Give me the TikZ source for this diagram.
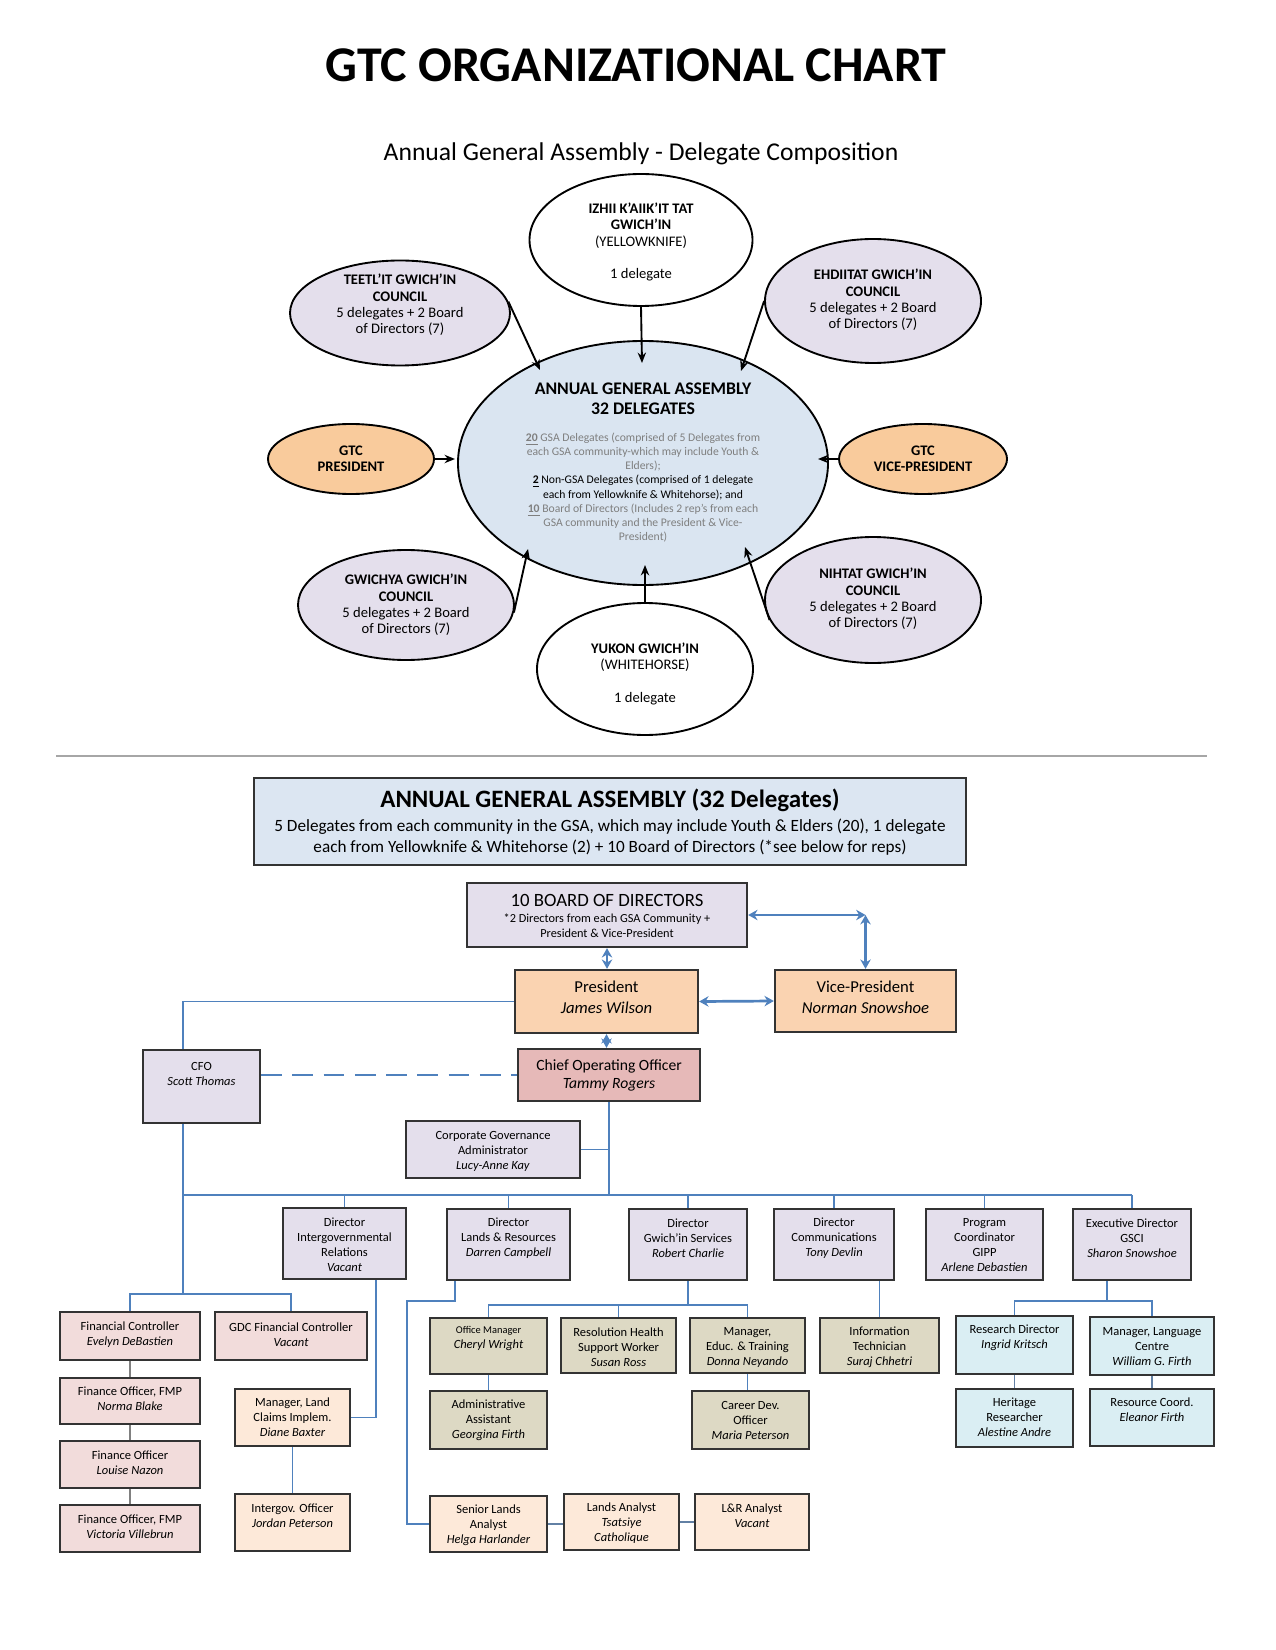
\documentclass[tikz,border=0pt]{standalone}
\usepackage{fontspec}
\setmainfont{Carlito}
\usetikzlibrary{shapes.geometric,arrows.meta,fit,calc}
\newcommand\fs[2]{\fontsize{#1}{#2}\selectfont}
\definecolor{lav}{HTML}{E4DFEC}
\definecolor{orng}{HTML}{F9CB9C}
\definecolor{agab}{HTML}{DAE5F1}
\definecolor{agabox}{HTML}{DCE6F2}
\definecolor{presor}{HTML}{FAD3B1}
\definecolor{coor}{HTML}{E6B9B8}
\definecolor{pinkb}{HTML}{F2DCDB}
\definecolor{peach}{HTML}{FDE9D9}
\definecolor{khaki}{HTML}{DDD9C4}
\definecolor{ltblue}{HTML}{DAEEF3}
\definecolor{lineblue}{HTML}{4F81BD}
\definecolor{aggrey}{HTML}{7F7F7F}
\newcommand\bx[6]{\node[box,#6,fit={(#2,#3) (#4,#5)}] (#1) {};}
\newcommand\el[6]{\node[ell,#6,minimum width={#4*0.96pt},minimum height={#5*0.96pt}] (#1) at (#2,#3) {};}
\tikzset{
 box/.style={draw=black!80, line width=1.1pt, inner sep=0pt},
 txt/.style={align=center, inner sep=0pt, font=\fs{6}{7.2}},
 etxt/.style={align=center, inner sep=0pt, font=\fs{7}{7.9}},
 bl/.style={draw=lineblue, line width=0.9pt},
 gl/.style={draw=black!50, line width=0.9pt},
 sl/.style={draw=lineblue!60!gray, line width=0.9pt},
 barrow/.style={draw=lineblue, line width=1.3pt, {Stealth[length=4.5pt,width=5pt]}-{Stealth[length=4.5pt,width=5pt]}},
 karrow/.style={draw=black, line width=0.9pt, -{Stealth[length=5pt,width=4pt]}},
 ell/.style={ellipse, draw=black, line width=0.9pt, inner sep=0pt},
}
\begin{document}
\begin{tikzpicture}[x=0.48pt,y=-0.48pt]
\path[use as bounding box, fill=white] (0,0) rectangle (1275,1650);

% ---------- titles
\node[font=\fs{24}{28}\bfseries, inner sep=0pt] (title) at (636,65) {GTC ORGANIZATIONAL CHART};
\node[font=\fs{12.3}{14}, inner sep=0pt] (subtitle) at (641,154) {Annual General Assembly - Delegate Composition};

% ---------- ellipses
\el{izhii}{641}{240}{111.5}{66}{fill=white}
\el{teet}{400}{313}{110}{52.5}{fill=lav}
\el{ehd}{873}{301}{108}{62}{fill=lav}
\el{aga}{643}{463}{185}{122}{fill=agab}
\el{gpres}{351}{459}{83}{35}{fill=orng}
\el{gvp}{923}{459}{84}{35}{fill=orng}
\el{gwi}{406}{605}{108}{55}{fill=lav}
\el{nih}{873}{600}{108}{63}{fill=lav}
\el{yuk}{645}{669}{108}{66}{fill=white}

\node[etxt] (izhii-t) at (641,242) {\textbf{IZHII K’AIIK’IT TAT}\\\textbf{GWICH’IN}\\(YELLOWKNIFE)\\[7.9pt]1 delegate};
\node[etxt] (teet-t) at (400,305) {\textbf{TEETL’IT GWICH’IN}\\\textbf{COUNCIL}\\5 delegates + 2 Board\\of Directors (7)};
\node[etxt] (ehd-t) at (873,300) {\textbf{EHDIITAT GWICH’IN}\\\textbf{COUNCIL}\\5 delegates + 2 Board\\of Directors (7)};
\node[etxt] (gpres-t) at (351,459) {\textbf{GTC}\\\textbf{PRESIDENT}};
\node[etxt] (gvp-t) at (923,459) {\textbf{GTC}\\\textbf{VICE-PRESIDENT}};
\node[etxt] (gwi-t) at (406,605) {\textbf{GWICHYA GWICH’IN}\\\textbf{COUNCIL}\\5 delegates + 2 Board\\of Directors (7)};
\node[etxt] (nih-t) at (873,599) {\textbf{NIHTAT GWICH’IN}\\\textbf{COUNCIL}\\5 delegates + 2 Board\\of Directors (7)};
\node[etxt] (yuk-t) at (645,674) {\textbf{YUKON GWICH’IN}\\(WHITEHORSE)\\[7.9pt]1 delegate};
\node[align=center, inner sep=0pt, font=\fs{8.5}{9.6}\bfseries] (aga-t1) at (643,399) {ANNUAL GENERAL ASSEMBLY\\32 DELEGATES};
\node[align=center, inner sep=0pt, font=\fs{5.6}{6.8}] (aga-t2) at (643,487.5) {%
\textcolor{aggrey}{\underline{\textbf{20}} GSA Delegates (comprised of 5 Delegates from}\\
\textcolor{aggrey}{each GSA community-which may include Youth \&}\\
\textcolor{aggrey}{Elders);}\\
\underline{\textbf{2}} Non-GSA Delegates (comprised of 1 delegate\\
each from Yellowknife \& Whitehorse); and\\
\textcolor{aggrey}{\underline{\textbf{10}} Board of Directors (Includes 2 rep’s from each}\\
\textcolor{aggrey}{GSA community and the President \& Vice-}\\
\textcolor{aggrey}{President)}};

\draw[karrow] (teet.6) -- ($(aga.center)+(-103,-93)$);
\draw[karrow] (izhii.south) -- ($(aga.center)+(-1,-100)$);
\draw[karrow] (ehd.west) -- ($(aga.center)+(98,-92)$);
\draw[karrow] (gpres.east) -- ($(aga.center)+(-188,-4)$);
\draw[karrow] (gvp.west) -- ($(aga.center)+(175,-4)$);
\draw[karrow] (gwi.-4) -- ($(aga.center)+(-115,86)$);
\draw[karrow] (yuk.north) -- ($(aga.center)+(2,102)$);
\draw[karrow] (nih.191) -- ($(aga.center)+(102,84)$);

% ---------- separator
\draw[black!35, line width=0.8pt] (56,756) -- (1207,756);

% ---------- lower chart boxes
\bx{aga2}{254}{778}{966}{865}{fill=agabox}
\bx{bod}{467}{883}{747}{947}{fill=lav}
\bx{pres}{515}{970}{698}{1033}{fill=presor}
\bx{vp}{775}{970}{956}{1032}{fill=presor}
\bx{coo}{518}{1049}{700}{1101}{fill=coor}
\bx{cfo}{143}{1050}{260}{1123}{fill=lav}
\bx{cga}{406}{1121}{580}{1178}{fill=lav}
\bx{d1}{283}{1208}{406}{1279}{fill=lav}
\bx{d2}{447}{1209}{570}{1280}{fill=lav}
\bx{d3}{629}{1209}{747}{1280}{fill=lav}
\bx{d4}{774}{1209}{894}{1280}{fill=lav}
\bx{d5}{926}{1209}{1043}{1280}{fill=lav}
\bx{d6}{1073}{1209}{1191}{1280}{fill=lav}
\bx{fc}{60}{1312}{200}{1360}{fill=pinkb}
\bx{gdc}{215}{1312}{367}{1360}{fill=pinkb}
\bx{fo1}{60}{1378}{200}{1424}{fill=pinkb}
\bx{fo2}{60}{1441}{200}{1488}{fill=pinkb}
\bx{fo3}{60}{1505}{200}{1552}{fill=pinkb}
\bx{mlci}{235}{1389}{350}{1446}{fill=peach}
\bx{io}{235}{1494}{350}{1551}{fill=peach}
\bx{om}{430}{1318}{547}{1374}{fill=khaki}
\bx{rh}{561}{1318}{676}{1373}{fill=khaki}
\bx{met}{690}{1318}{805}{1373}{fill=khaki}
\bx{aa}{430}{1391}{547}{1449}{fill=khaki}
\bx{cdo}{692}{1391}{809}{1449}{fill=khaki}
\bx{it}{820}{1318}{939}{1373}{fill=khaki}
\bx{rd}{956}{1316}{1073}{1374}{fill=ltblue}
\bx{mlc}{1090}{1317}{1214}{1375}{fill=ltblue}
\bx{hr}{956}{1389}{1073}{1447}{fill=ltblue}
\bx{rc}{1090}{1389}{1214}{1446}{fill=ltblue}
\bx{sla}{430}{1496}{547}{1552}{fill=peach}
\bx{la}{564}{1494}{679}{1550}{fill=peach}
\bx{lr}{695}{1494}{809}{1550}{fill=peach}

% ---------- lower chart texts
\node[txt,font=\fs{12}{14}\bfseries] (aga2-t1) at (610,800) {ANNUAL GENERAL ASSEMBLY (32 Delegates)};
\node[txt,font=\fs{8.25}{9.8}] (aga2-t2) at (610,837) {5 Delegates from each community in the GSA, which may include Youth \& Elders (20), 1 delegate\\each from Yellowknife \& Whitehorse (2) + 10 Board of Directors (*see below for reps)};
\node[txt,font=\fs{9}{11}] (bod-t1) at (607,900) {10 BOARD OF DIRECTORS};
\node[txt,font=\fs{5.9}{7.1}] (bod-t2) at (607,925.5) {*2 Directors from each GSA Community +\\President \& Vice-President};
\node[txt,font=\fs{8}{10}] (pres-t) at (606.5,997.5) {President\\\textit{James Wilson}};
\node[txt,font=\fs{8}{10}] (vp-t) at (865.5,997.5) {Vice-President\\\textit{Norman Snowshoe}};
\node[txt,font=\fs{7.5}{9}] (coo-t) at (609,1075.5) {Chief Operating Officer\\\textit{Tammy Rogers}};
\node[txt] (cfo-t) at (201.5,1073.5) {CFO\\\textit{Scott Thomas}};
\node[txt] (cga-t) at (493,1151.5) {Corporate Governance\\Administrator\\\textit{Lucy-Anne Kay}};
\node[txt] (d1-t) at (344.5,1244.5) {Director\\Intergovernmental\\Relations\\\textit{Vacant}};
\node[txt] (d2-t) at (508.5,1238.5) {Director\\Lands \& Resources\\\textit{Darren Campbell}};
\node[txt] (d3-t) at (688,1238.5) {Director\\Gwich’in Services\\\textit{Robert Charlie}};
\node[txt] (d4-t) at (834,1238.5) {Director\\Communications\\\textit{Tony Devlin}};
\node[txt] (d5-t) at (984.5,1245) {Program\\Coordinator\\GIPP\\\textit{Arlene Debastien}};
\node[txt] (d6-t) at (1132,1238.5) {Executive Director\\GSCI\\\textit{Sharon Snowshoe}};
\node[txt] (fc-t) at (130,1334.5) {Financial Controller\\\textit{Evelyn DeBastien}};
\node[txt] (gdc-t) at (291,1334.5) {GDC Financial Controller\\\textit{Vacant}};
\node[txt] (fo1-t) at (130,1398.5) {Finance Officer, FMP\\\textit{Norma Blake}};
\node[txt] (fo2-t) at (130,1462.5) {Finance Officer\\\textit{Louise Nazon}};
\node[txt] (fo3-t) at (130,1526.5) {Finance Officer, FMP\\\textit{Victoria Villebrun}};
\node[txt] (mlci-t) at (292.5,1417.5) {Manager, Land\\Claims Implem.\\\textit{Diane Baxter}};
\node[txt] (io-t) at (292.5,1516) {Intergov. Officer\\\textit{Jordan Peterson}};
\node[txt] (om-t) at (488.5,1338.5) {{\fs{5}{7.2}Office Manager}\\\textit{Cheryl Wright}};
\node[txt] (rh-t) at (618.5,1347) {Resolution Health\\Support Worker\\\textit{Susan Ross}};
\node[txt] (met-t) at (747.5,1347) {Manager,\\Educ. \& Training\\\textit{Donna Neyando}};
\node[txt] (aa-t) at (488.5,1420.5) {Administrative\\Assistant\\\textit{Georgina Firth}};
\node[txt] (cdo-t) at (750.5,1420.5) {Career Dev.\\Officer\\\textit{Maria Peterson}};
\node[txt] (it-t) at (879.5,1347) {Information\\Technician\\\textit{Suraj Chhetri}};
\node[txt] (rd-t) at (1014.5,1337.5) {Research Director\\\textit{Ingrid Kritsch}};
\node[txt] (mlc-t) at (1152,1347) {Manager, Language\\Centre\\\textit{William G. Firth}};
\node[txt] (hr-t) at (1014.5,1417.5) {Heritage\\Researcher\\\textit{Alestine Andre}};
\node[txt] (rc-t) at (1152,1409.5) {Resource Coord.\\\textit{Eleanor Firth}};
\node[txt] (sla-t) at (488.5,1525) {Senior Lands\\Analyst\\\textit{Helga Harlander}};
\node[txt] (la-t) at (621.5,1523.5) {Lands Analyst\\\textit{Tsatsiye}\\\textit{Catholique}};
\node[txt] (lr-t) at (752,1516) {L\&R Analyst\\\textit{Vacant}};

% ---------- lower connectors
\coordinate (busL) at (183,1195);
\coordinate (fsplit) at (183,1294);
\coordinate (lk) at (407,1301);
\coordinate (g3) at (689,1305);
\coordinate (g6) at (1107,1301);
\coordinate (bvc) at (bod.east -| vp.north);

\draw[barrow] (bod.south) -- (bod.south |- pres.north);
\draw[barrow] (bod.east) -- (bvc);
\draw[barrow] (bvc) -- (vp.north);
\draw[barrow] (pres.east) -- (vp.west);
\draw[barrow] (pres.south) -- (pres.south |- coo.north);

\draw[bl] (pres.west) -| (cfo.north -| busL);
\draw[bl] (cfo.south -| busL) -- (fsplit);
\draw[bl, dash pattern=on 10pt off 5pt] (cfo.east |- coo.west) -- (coo.west);
\draw[bl] (coo.south) -- (coo.south |- busL);
\draw[bl] (cga.east) -- (cga.east -| coo.south);
\draw[bl] (busL) -- (busL -| d6.north);
\foreach \d in {d1,d2,d3,d4,d5,d6} \draw[bl] (\d.north) -- (\d.north |- busL);

\draw[bl] (fc.north) |- (fsplit) -| (gdc.north);
\draw[gl] (fc.south) -- (fo1.north);
\draw[gl] (fo1.south) -- (fo2.north);
\draw[gl] (fo2.south) -- (fo3.north);

\draw[bl] ($(d1.south west)+(94,0)$) |- (mlci.east);
\draw[bl] (mlci.south) -- (io.north);

\draw[bl] ($(d2.south west)+(9,0)$) |- (lk) |- (sla.west);
\draw[sl] (sla.east) -- (sla.east -| la.west);
\draw[sl] (la.east) -- (la.east -| lr.west);

\draw[bl] (d3.south) -- (d3.south |- g3);
\draw[bl] (om.north) |- (g3) -| (met.north);
\draw[bl] (rh.north) -- (rh.north |- g3);
\draw[bl] (om.south) -- (om.south |- aa.north);
\draw[bl] (met.south) -- (met.south |- cdo.north);

\draw[bl] (it.north) -- (it.north |- d4.south);

\draw[bl] (d6.south -| g6) -- (g6);
\draw[bl] (rd.north) |- (g6) -| (mlc.north);
\draw[sl] (rd.south) -- (hr.north);
\draw[sl] (mlc.south) -- (rc.north);
\end{tikzpicture}
\end{document}
